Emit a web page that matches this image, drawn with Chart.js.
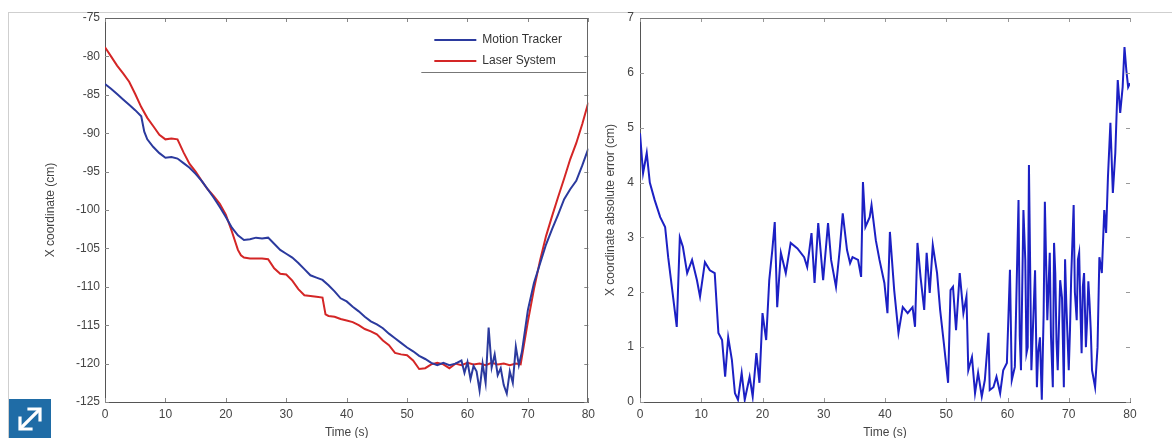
<!DOCTYPE html>
<html><head><meta charset="utf-8">
<script src="https://cdn.jsdelivr.net/npm/chart.js@4.4.1/dist/chart.umd.min.js"></script>
<style>
html,body{margin:0;padding:0;background:#fff;overflow:hidden;width:1172px;height:438px;}
#frame{position:absolute;left:8px;top:12px;width:1170px;height:430px;border-top:1px solid #cfcfcf;border-left:1px solid #cfcfcf;}
#c1{position:absolute;left:0;top:0;}
#c2{position:absolute;left:600px;top:0;}
#icon{position:absolute;left:9px;top:399px;width:42px;height:39px;background:#1f6ca6;}
</style></head><body>
<div id="frame"></div>
<canvas id="c1" width="600" height="438"></canvas>
<canvas id="c2" width="572" height="438"></canvas>
<div id="icon"><svg width="42" height="39" viewBox="0 0 42 39"><g stroke="#fff" stroke-width="3.2" fill="none" stroke-linecap="square"><line x1="12" y1="29" x2="30" y2="11"/><polyline points="20,10 31,10 31,21"/><polyline points="11,19 11,30 22,30"/></g></svg></div>
<script>
// ---------- data ----------
const xTicks = [0, 10, 20, 30, 40, 50, 60, 70, 80];
const yTicksLeft = [-125, -120, -115, -110, -105, -100, -95, -90, -85, -80, -75];
const yTicksRight = [0, 1, 2, 3, 4, 5, 6, 7];

const trackerT = [0,1,2,3,4,5,6,6.5,7,8,9,10,11,12,13,14,15,16,17,18,19,20,21,22,23,24,25,26,27,28,29,30,31,32,33,34,35,36,37,38,39,40,41,42,43,44,45,46,47,48,49,50,51,52,53,54,55,56,57,58,59,59.5,60,60.5,61,61.5,62,62.5,63,63.5,64,64.5,65,65.5,66,66.5,67,67.5,68,68.5,69,70,71,72,73,74,75,76,77,78,79,80];
const trackerX = [-83.6,-84.2,-84.9,-85.6,-86.3,-87.0,-87.8,-89.8,-90.8,-91.8,-92.6,-93.2,-93.1,-93.3,-93.9,-94.5,-95.3,-96.2,-97.3,-98.4,-99.6,-100.9,-102.3,-103.3,-103.9,-103.8,-103.6,-103.7,-103.6,-104.4,-105.2,-105.7,-106.2,-106.9,-107.7,-108.5,-108.8,-109.1,-109.8,-110.6,-111.5,-111.9,-112.6,-113.2,-113.9,-114.5,-114.9,-115.4,-116.1,-116.7,-117.3,-117.9,-118.4,-119.0,-119.4,-119.9,-120.2,-119.9,-120.2,-120.0,-119.6,-121.2,-119.8,-122.0,-120.3,-121.0,-123.5,-120.0,-122.5,-115.3,-120.5,-118.8,-121.5,-120.6,-122.8,-123.9,-121.0,-122.5,-117.8,-120.2,-118.5,-113.0,-109.5,-107.0,-104.5,-102.5,-100.6,-98.6,-97.3,-96.2,-94.2,-92.0];

const laserT = [0,1,2,3,4,5,6,7,8,9,10,11,12,13,14,15,16,17,18,19,20,21,22,22.5,23,24,25,26,27,28,29,30,31,32,33,34,35,36,36.5,37,38,39,40,41,42,43,44,45,46,47,48,49,50,51,52,53,54,55,56,57,58,59,60,61,62,63,64,65,66,67,68,68.8,70,71,72,73,74,75,76,77,78,79,80];
const laserX = [-78.8,-80.0,-81.2,-82.2,-83.3,-84.9,-86.6,-88.0,-89.1,-90.2,-90.8,-90.7,-90.8,-92.5,-94.0,-95.0,-96.2,-97.3,-98.2,-99.2,-100.6,-102.8,-105.2,-105.9,-106.2,-106.3,-106.3,-106.3,-106.4,-107.6,-108.3,-108.4,-109.2,-110.3,-111.1,-111.2,-111.3,-111.4,-113.6,-113.8,-113.9,-114.2,-114.4,-114.6,-115.0,-115.5,-115.8,-116.2,-117.0,-117.6,-118.6,-118.8,-118.9,-119.6,-120.7,-120.6,-120.1,-119.9,-120.1,-120.6,-120.0,-120.2,-119.9,-120.1,-120.0,-120.2,-119.9,-120.1,-120.0,-120.2,-120.0,-120.1,-114.5,-110.3,-106.6,-103.4,-100.8,-98.3,-95.9,-93.4,-91.3,-88.8,-86.0];

const errorT = [0,0.5,1.1,1.6,2.4,3.3,4.1,4.6,5.2,6.0,6.5,7.0,7.7,8.5,9.3,9.8,10.6,11.4,12.2,12.8,13.4,13.9,14.4,15.0,15.5,16.0,16.6,17.1,17.9,18.4,19.0,19.5,20.0,20.6,21.1,21.6,22.0,22.4,23.0,23.8,24.6,25.7,26.8,27.3,28.0,28.5,29.1,29.9,30.7,31.2,32.0,32.6,33.1,33.8,34.3,34.7,35.6,36.1,36.4,36.8,37.5,37.8,38.5,39.1,39.9,40.4,40.8,41.5,42.2,42.9,43.7,44.5,44.9,45.3,45.8,46.4,46.8,47.3,47.8,48.5,49.0,49.6,50.3,50.7,51.1,51.6,52.2,52.8,53.3,53.6,54.2,54.7,55.2,55.8,56.3,56.9,57.1,57.7,58.2,58.8,59.3,59.9,60.4,60.7,61.2,61.8,62.0,62.2,62.6,62.9,63.1,63.3,63.5,63.9,64.2,64.5,64.8,65.0,65.3,65.6,65.9,66.1,66.5,66.9,67.1,67.4,67.6,67.8,68.0,68.2,68.6,68.9,69.2,69.4,69.6,70.0,70.2,70.4,70.8,71.0,71.3,71.5,71.7,71.9,72.1,72.3,72.5,72.8,73.0,73.2,73.4,73.6,73.8,74.3,74.7,75.0,75.4,75.8,76.1,76.4,76.8,77.2,77.6,78.0,78.4,78.8,79.1,79.4,79.7,80.0];
const errorX = [4.9,4.17,4.54,4.0,3.68,3.37,3.19,2.64,2.1,1.37,3.0,2.83,2.35,2.59,2.22,1.92,2.55,2.4,2.35,1.26,1.13,0.46,1.18,0.77,0.16,0.04,0.53,0.04,0.46,0.1,0.89,0.35,1.62,1.13,2.22,2.77,3.28,1.73,2.72,2.35,2.9,2.8,2.64,2.46,3.08,2.17,3.26,2.22,3.26,2.59,2.1,2.77,3.44,2.77,2.53,2.64,2.59,2.28,4.01,3.19,3.37,3.59,2.95,2.59,2.17,1.62,3.1,2.04,1.26,1.73,1.62,1.73,1.37,2.9,2.28,1.68,2.72,1.99,2.86,2.35,1.68,1.08,0.35,2.04,2.1,1.31,2.35,1.62,1.92,0.58,0.82,0.16,0.53,0.1,0.4,1.26,0.22,0.27,0.46,0.16,0.58,0.71,2.41,0.4,0.64,3.68,1.2,0.58,3.5,2.6,0.89,1.0,4.32,0.58,1.49,2.4,0.27,0.9,1.18,0.04,1.6,3.65,1.49,2.72,1.2,0.27,2.9,2.35,1.1,0.58,2.22,1.9,0.27,2.6,1.8,0.58,1.3,2.28,3.59,2.0,1.49,2.6,2.72,1.7,0.89,2.1,2.35,1.0,1.49,2.2,1.8,1.3,0.58,0.27,1.0,2.64,2.35,3.5,3.08,4.1,5.09,3.81,4.54,5.87,5.27,5.74,6.47,6.05,5.74,5.81];

// ---------- helpers ----------
const pairs = (ts, vs) => ts.map((t, i) => ({x: t, y: vs[i]}));
const FONT = '"Liberation Sans", Arial, Helvetica, sans-serif';
const TXT = '#444';

const boxTicks = {
  id: 'boxTicks',
  afterDraw(chart, args, o) {
    const {ctx, chartArea: a, scales: {x, y}} = chart;
    ctx.save();
    ctx.lineWidth = 1;
    ctx.strokeStyle = o.tickColor;
    ctx.beginPath();
    x.ticks.forEach(t => {
      const px = Math.round(x.getPixelForValue(t.value)) + 0.5;
      ctx.moveTo(px, a.bottom); ctx.lineTo(px, a.bottom - 4);
      ctx.moveTo(px, a.top); ctx.lineTo(px, a.top + 4);
    });
    y.ticks.forEach(t => {
      const py = Math.round(y.getPixelForValue(t.value)) + 0.5;
      ctx.moveTo(a.left, py); ctx.lineTo(a.left + 4, py);
      ctx.moveTo(a.right, py); ctx.lineTo(a.right - 4, py);
    });
    ctx.stroke();
    ctx.strokeStyle = o.topColor;
    ctx.beginPath(); ctx.moveTo(a.left, Math.round(a.top) + 0.5); ctx.lineTo(a.right, Math.round(a.top) + 0.5); ctx.stroke();
    ctx.strokeStyle = o.rightColor;
    ctx.beginPath(); ctx.moveTo(Math.round(a.right) - 0.5, a.top); ctx.lineTo(Math.round(a.right) - 0.5, a.bottom); ctx.stroke();
    ctx.restore();
  }
};

const insideLegend = {
  id: 'insideLegend',
  afterDraw(chart) {
    const {ctx, chartArea: a} = chart;
    ctx.save();
    ctx.font = '12px ' + FONT;
    ctx.textBaseline = 'middle';
    ctx.textAlign = 'left';
    chart.data.datasets.forEach((ds, i) => {
      const yy = a.top + 22 + i * 21;
      ctx.strokeStyle = ds.borderColor; ctx.lineWidth = 2;
      ctx.beginPath(); ctx.moveTo(a.right - 154, yy); ctx.lineTo(a.right - 112, yy); ctx.stroke();
      ctx.fillStyle = '#333';
      ctx.fillText(ds.label, a.right - 106, yy);
    });
    ctx.strokeStyle = '#777'; ctx.lineWidth = 1;
    ctx.beginPath(); ctx.moveTo(a.right - 167, a.top + 54.5); ctx.lineTo(a.right - 2, a.top + 54.5); ctx.stroke();
    ctx.restore();
  }
};

function xScale() {
  return {
    type: 'linear', min: 0, max: 80,
    grid: {display: false, drawTicks: false},
    border: {display: true, color: '#555', width: 1},
    ticks: {stepSize: 10, autoSkip: false, padding: 5, color: TXT, font: {size: 12, family: FONT}},
    afterBuildTicks: s => { s.ticks = xTicks.map(v => ({value: v})); },
    title: {display: true, text: 'Time (s)', color: TXT, font: {size: 12, family: FONT}, padding: {top: 0, bottom: -2}},
    afterFit: s => { s.height = 36; }
  };
}

// ---------- left chart ----------
new Chart(document.getElementById('c1'), {
  type: 'line',
  data: {
    datasets: [
      {label: 'Motion Tracker', data: pairs(trackerT, trackerX), borderColor: '#2b3a9e', borderWidth: 2, pointRadius: 0, tension: 0, fill: false},
      {label: 'Laser System', data: pairs(laserT, laserX), borderColor: '#d42626', borderWidth: 2, pointRadius: 0, tension: 0, fill: false}
    ]
  },
  options: {
    responsive: false, animation: false, devicePixelRatio: 1,
    layout: {padding: {top: 18, right: 8, left: 0, bottom: 0}},
    plugins: {legend: {display: false}, tooltip: {enabled: false},
      boxTicks: {tickColor: '#888', topColor: '#666', rightColor: '#666'}},
    scales: {
      x: xScale(),
      y: {
        type: 'linear', min: -125, max: -75,
        grid: {display: false, drawTicks: false},
        border: {display: true, color: '#555', width: 1},
        ticks: {stepSize: 5, autoSkip: false, padding: 5, color: TXT, font: {size: 12, family: FONT}},
        afterBuildTicks: s => { s.ticks = yTicksLeft.map(v => ({value: v})); },
        title: {display: true, text: 'X coordinate (cm)', color: TXT, font: {size: 12, family: FONT}, padding: {top: 43, bottom: 0}},
        afterFit: s => { s.width = 105; }
      }
    }
  },
  plugins: [boxTicks, insideLegend]
});

// ---------- right chart ----------
new Chart(document.getElementById('c2'), {
  type: 'line',
  data: {
    datasets: [
      {label: 'X coordinate absolute error', data: pairs(errorT, errorX), borderColor: '#1c20c4', borderWidth: 2, pointRadius: 0, tension: 0, fill: false}
    ]
  },
  options: {
    responsive: false, animation: false, devicePixelRatio: 1,
    layout: {padding: {top: 18, right: 42, left: 0, bottom: 0}},
    plugins: {legend: {display: false}, tooltip: {enabled: false},
      boxTicks: {tickColor: '#999', topColor: '#777', rightColor: 'rgba(0,0,0,0)'}},
    scales: {
      x: xScale(),
      y: {
        type: 'linear', min: 0, max: 7,
        grid: {display: false, drawTicks: false},
        border: {display: true, color: '#555', width: 1},
        ticks: {stepSize: 1, autoSkip: false, padding: 6, color: TXT, font: {size: 12, family: FONT}},
        afterBuildTicks: s => { s.ticks = yTicksRight.map(v => ({value: v})); },
        title: {display: true, text: 'X coordinate absolute error (cm)', color: TXT, font: {size: 12, family: FONT}, padding: {top: 3, bottom: 0}},
        afterFit: s => { s.width = 40; }
      }
    }
  },
  plugins: [boxTicks]
});
</script>
</body></html>
